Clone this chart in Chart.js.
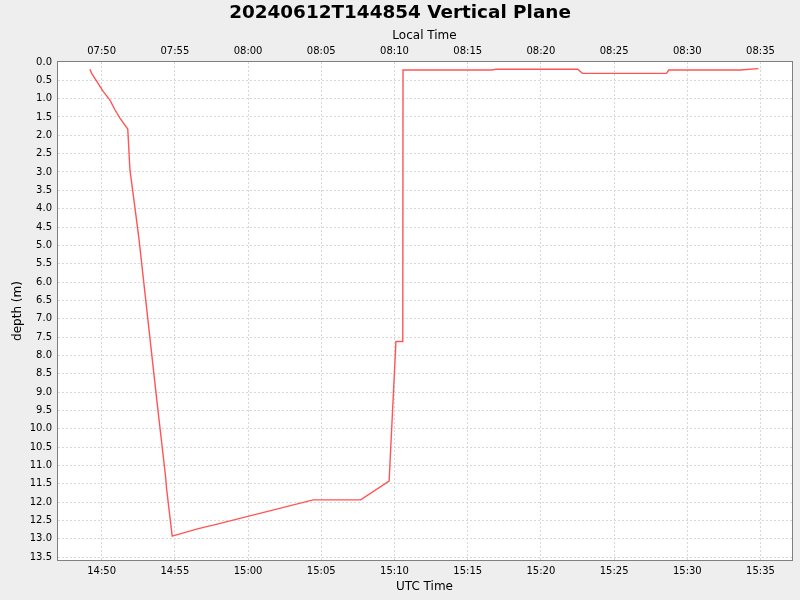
<!DOCTYPE html>
<html>
<head>
<meta charset="utf-8">
<script src="https://cdn.jsdelivr.net/npm/chart.js@4.4.1/dist/chart.umd.min.js"></script>
<style>
  body { margin: 0; background: #eeeeee; }
  canvas { display: block; }
</style>
</head>
<body>
<canvas id="myChart" width="800" height="600"></canvas>
<script>
// samples (UTC time, depth in metres)
var utcTimes = ['14:49:12', '14:49:19', '14:50:07', '14:50:34', '14:50:55', '14:51:15',
    '14:51:47', '14:51:56', '14:52:16', '14:52:33', '14:53:46', '14:54:22', '14:54:26',
    '14:54:49', '14:56:29', '14:57:10', '14:57:37', '15:04:27', '15:07:41', '15:09:38',
    '15:10:06', '15:10:34', '15:10:35', '15:16:38', '15:16:56', '15:22:31', '15:22:50',
    '15:28:35', '15:28:44', '15:33:36', '15:34:51'];
var depths = [0.20, 0.31, 0.81, 1.04, 1.31, 1.53,
    1.83, 2.95, 3.95, 4.83, 9.22, 11.31, 11.63,
    12.93, 12.74, 12.67, 12.63, 11.94, 11.94, 11.43,
    7.62, 7.62, 0.22, 0.22, 0.20, 0.20, 0.31,
    0.31, 0.22, 0.22, 0.18];

var utcTickLabels = ['14:50', '14:55', '15:00', '15:05', '15:10', '15:15', '15:20', '15:25', '15:30', '15:35'];
var localTickLabels = ['07:50', '07:55', '08:00', '08:05', '08:10', '08:15', '08:20', '08:25', '08:30', '08:35'];
var depthTickStep = 0.5;
var depthTickMax = 13.5;

// minutes after 14:00 UTC
function toMinutes(t) {
    var p = t.split(':');
    return (parseInt(p[0]) - 14) * 60 + parseInt(p[1]) + (p[2] ? parseInt(p[2]) / 60 : 0);
}

var puntos = utcTimes.map(function (t, i) {
    return { x: toMinutes(t), y: depths[i] };
});
var tickMinutes = utcTickLabels.map(toMinutes);

var xMin = 46.95, xMax = 97.15;

const fondo = {
    id: 'fondo',
    beforeDraw(chart) {
        const ctx = chart.ctx, a = chart.chartArea;
        ctx.save();
        ctx.fillStyle = '#eeeeee';
        ctx.fillRect(0, 0, chart.width, chart.height);
        ctx.fillStyle = '#ffffff';
        ctx.fillRect(a.left, a.top, a.right - a.left, a.bottom - a.top);
        ctx.restore();
    },
    afterDraw(chart) {
        const ctx = chart.ctx, a = chart.chartArea;
        ctx.save();
        ctx.strokeStyle = '#808080';
        ctx.lineWidth = 1;
        ctx.beginPath();
        ctx.moveTo(a.right + 0.5, a.top);
        ctx.lineTo(a.right + 0.5, a.bottom);
        ctx.stroke();
        ctx.restore();
    }
};

function xTicks(scale) {
    scale.ticks = tickMinutes.map(function (v) { return { value: v }; });
}

var tickFont = { family: 'DejaVu Sans', size: 10 };
var titleFont = { family: 'DejaVu Sans', size: 12 };
var sinTick = 'rgba(0,0,0,0)';

var ctx = document.getElementById('myChart');
const myChart = new Chart(ctx, {
    type: 'line',
    data: {
        datasets: [{
            label: 'depth',
            data: puntos,
            borderColor: '#ff5555',
            borderWidth: 1.4,
            pointRadius: 0,
            tension: 0,
            fill: false
        }]
    },
    plugins: [fondo],
    options: {
        responsive: false,
        devicePixelRatio: 1,
        animation: false,
        layout: { padding: 0 },
        plugins: {
            legend: { display: false },
            tooltip: { enabled: false },
            title: {
                display: true,
                text: '20240612T144854 Vertical Plane',
                color: '#000000',
                font: { family: 'DejaVu Sans', size: 18.4, weight: 'bold' },
                padding: { top: 2, bottom: 1.9 }
            }
        },
        scales: {
            x: {
                type: 'linear',
                position: 'bottom',
                min: xMin,
                max: xMax,
                afterBuildTicks: xTicks,
                afterFit: function (s) { s.height = 40; },
                ticks: {
                    color: '#000000',
                    font: tickFont,
                    padding: 3,
                    maxRotation: 0,
                    autoSkip: false,
                    callback: function (v, i) { return utcTickLabels[i]; }
                },
                grid: {
                    color: '#d8d8d8',
                    tickLength: 2,
                    tickColor: sinTick,
                    tickBorderDash: []
                },
                border: { display: true, color: '#808080', dash: [2, 2] },
                title: {
                    display: true,
                    text: 'UTC Time',
                    color: '#000000',
                    font: titleFont,
                    padding: { top: 0, bottom: 6 }
                }
            },
            x2: {
                type: 'linear',
                position: 'top',
                min: xMin,
                max: xMax,
                afterBuildTicks: xTicks,
                afterFit: function (s) { s.height = 36; },
                ticks: {
                    color: '#000000',
                    font: tickFont,
                    padding: 3,
                    maxRotation: 0,
                    autoSkip: false,
                    callback: function (v, i) { return localTickLabels[i]; }
                },
                grid: {
                    drawOnChartArea: false,
                    tickLength: 2,
                    tickColor: sinTick
                },
                border: { display: true, color: '#808080' },
                title: {
                    display: true,
                    text: 'Local Time',
                    color: '#000000',
                    font: titleFont,
                    padding: { top: 3, bottom: 0 }
                }
            },
            y: {
                type: 'linear',
                reverse: true,
                min: 0,
                max: 13.58,
                afterBuildTicks: function (scale) {
                    var t = [];
                    for (var v = 0; v <= depthTickMax + 1e-9; v += depthTickStep) {
                        t.push({ value: Math.round(v * 10) / 10 });
                    }
                    scale.ticks = t;
                },
                afterFit: function (s) { s.width = 57; },
                ticks: {
                    color: '#000000',
                    font: tickFont,
                    padding: 3,
                    autoSkip: false,
                    callback: function (v) { return v.toFixed(1); }
                },
                grid: {
                    color: '#d8d8d8',
                    tickLength: 2,
                    tickColor: sinTick,
                    tickBorderDash: []
                },
                border: { display: true, color: '#808080', dash: [2, 2] },
                title: {
                    display: true,
                    text: 'depth (m)',
                    color: '#000000',
                    font: titleFont,
                    padding: { top: 11, bottom: 0 }
                }
            },
            // empty right margin so the title is centred on the whole canvas
            y2: {
                type: 'linear',
                position: 'right',
                min: 0,
                max: 1,
                afterFit: function (s) { s.width = 8; },
                ticks: { display: false },
                grid: { drawOnChartArea: false, drawTicks: false },
                border: { display: false }
            }
        }
    }
});
</script>
</body>
</html>
